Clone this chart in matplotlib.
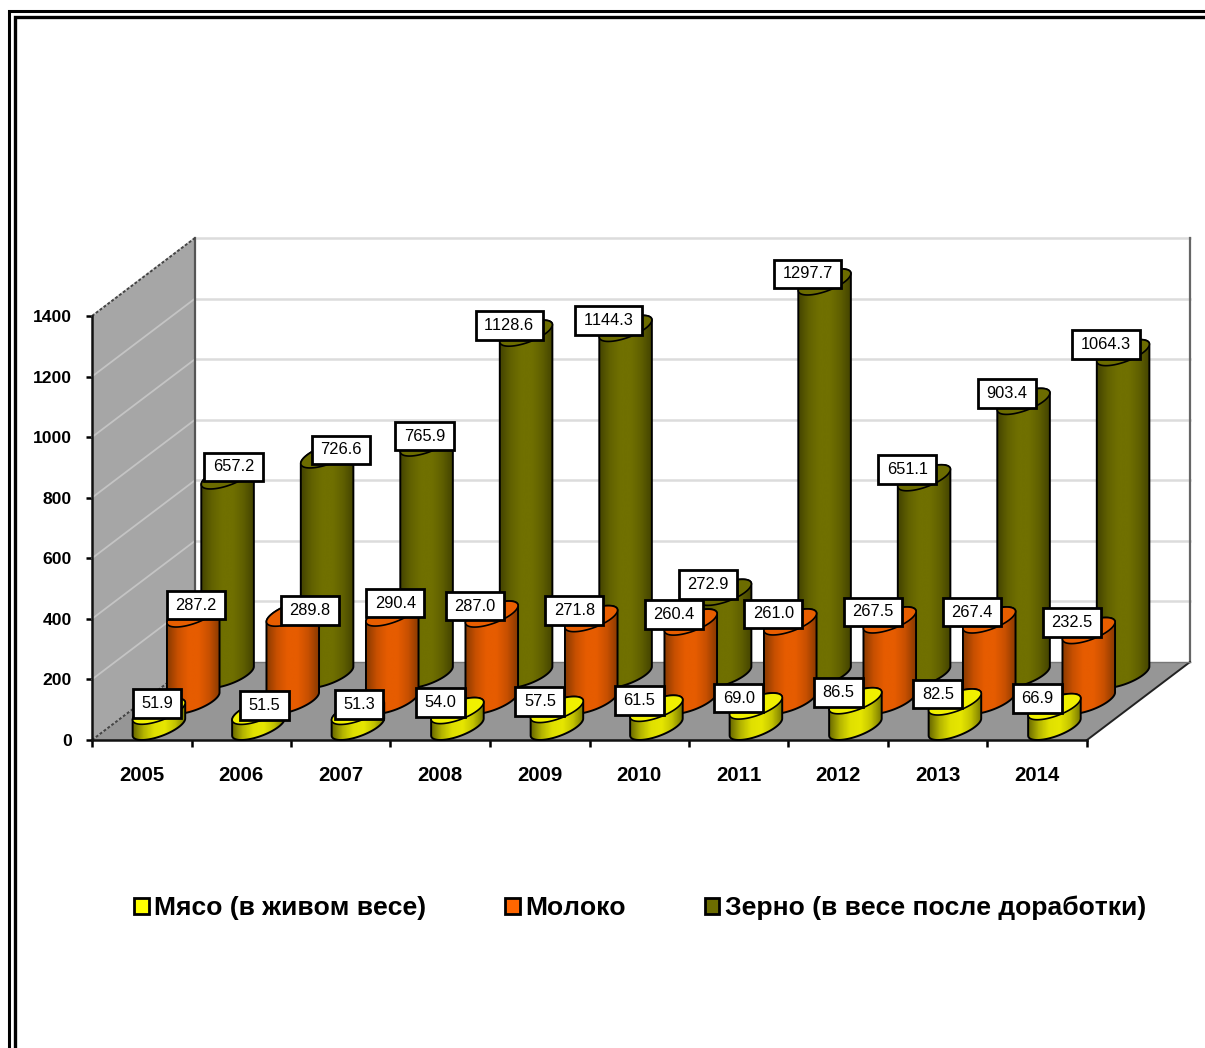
import numpy as np
import matplotlib
matplotlib.use('Agg')
import matplotlib.pyplot as plt
from matplotlib.colors import LinearSegmentedColormap
from matplotlib.lines import Line2D
from matplotlib.patches import Patch, Polygon
from matplotlib.path import Path

plt.rcParams['font.family'] = ['Liberation Sans', 'DejaVu Sans']
plt.rcParams['text.kerning_factor'] = 6

# Data
years = ['2005', '2006', '2007', '2008', '2009', '2010', '2011', '2012', '2013', '2014']
meat = [51.9, 51.5, 51.3, 54.0, 57.5, 61.5, 69.0, 86.5, 82.5, 66.9]
milk = [287.2, 289.8, 290.4, 287.0, 271.8, 260.4, 261.0, 267.5, 267.4, 232.5]
grain = [657.2, 726.6, 765.9, 1128.6, 1144.3, 272.9, 1297.7, 651.1, 903.4, 1064.3]
names = ['Мясо (в живом весе)', 'Молоко', 'Зерно (в весе после доработки)']
y_ticks = [0, 200, 400, 600, 800, 1000, 1200, 1400]

# Label nudges in pixels (right, down), most labels sit at the default spot
default_nudge = (-17, -8)
meat_nudge = {0: (-2, -8), 1: (6, -6), 2: (1, -7)}
milk_nudge = {0: (3, -9), 1: (17, -3), 2: (3, -10)}
grain_nudge = {0: (6, -9), 1: (14, -5), 2: (-2, -7)}

# Figure size and plot placement in pixels
W, H = 1205, 1048
left, right, bottom, top = 92, 1087, 740, 316
depth_px = (103, 78)
n_rows = 3

fig = plt.figure(figsize=(W / 100, H / 100), dpi=100)
ax = fig.add_axes([left / W, 1 - bottom / H, (right - left) / W, (bottom - top) / H])
ax.patch.set_visible(False)
x_max, y_max = len(years), y_ticks[-1]

# One depth unit expressed in data units
depth_x = depth_px[0] / ((right - left) / x_max)
depth_y = depth_px[1] / ((bottom - top) / y_max)


def shape(pts, **kw):
    p = Polygon(pts, closed=True, clip_on=False, **kw)
    ax.add_patch(p)
    return p


# Walls and floor
shape([(0, 0), (0, y_max), (depth_x, y_max + depth_y), (depth_x, depth_y)], fc='#A6A6A6', ec='none', zorder=1)
shape([(depth_x, depth_y), (depth_x, y_max + depth_y), (x_max + depth_x, y_max + depth_y), (x_max + depth_x, depth_y)],
      fc='white', ec='none', zorder=1)
shape([(0, 0), (x_max, 0), (x_max + depth_x, depth_y), (depth_x, depth_y)], fc='#969696', ec='none', zorder=1)

# Grid on the side and the back wall
for v in y_ticks[1:]:
    ax.plot([0, depth_x], [v, v + depth_y], color='#C4C4C4', lw=1.3, zorder=2, clip_on=False)
    ax.plot([depth_x, x_max + depth_x], [v + depth_y, v + depth_y], color='#DCDCDC', lw=1.8, zorder=2, clip_on=False)

# Wall edges
ax.plot([depth_x, depth_x], [depth_y, y_max + depth_y], color='#555555', lw=1.6, zorder=3, clip_on=False)
ax.plot([x_max + depth_x, x_max + depth_x], [depth_y, y_max + depth_y], color='#666666', lw=1.6, zorder=3, clip_on=False)
ax.plot([0, depth_x], [y_max, y_max + depth_y], color='#444444', lw=1.4, ls=(0, (1.5, 1)), zorder=3, clip_on=False)
ax.plot([0, depth_x], [0, depth_y], color='#444444', lw=1.4, ls=(0, (1.5, 1)), zorder=3, clip_on=False)
ax.plot([x_max, x_max + depth_x], [0, depth_y], color='#222222', lw=1.4, zorder=3, clip_on=False)
ax.plot([depth_x, x_max + depth_x], [depth_y, depth_y], color='#777777', lw=1, zorder=3, clip_on=False)

# Cylinder geometry, gap width 150 %
half_w = 1 / 2.5 / 2
half_d = 0.5 * depth_x / n_rows
half_h = 0.5 * depth_y / n_rows
turn = np.arctan2(half_d, half_w)


def ring(cx, cy, t):
    return np.column_stack([cx + half_w * np.cos(t) + half_d * np.sin(t), cy + half_h * np.sin(t)])


def cylinder(cx, base, value, cmap, top_color, z):
    front = np.linspace(turn - np.pi, turn, 60)
    back = np.linspace(turn, turn + np.pi, 60)
    body_pts = np.vstack([ring(cx, base, front), ring(cx, base + value, back)])
    body = shape(body_pts, fc='none', ec='none', zorder=z)
    x0, x1 = body_pts[:, 0].min(), body_pts[:, 0].max()
    im = ax.imshow(np.linspace(0, 1, 64).reshape(1, -1), cmap=cmap, aspect='auto', zorder=z + 0.1,
                   extent=[x0, x1, body_pts[:, 1].min(), body_pts[:, 1].max()], interpolation='bilinear')
    im.set_clip_box(fig.bbox)
    im.set_clip_path(body)
    shape(body_pts, fc='none', ec='black', lw=1.4, zorder=z + 0.2)
    shape(ring(cx, base + value, np.linspace(0, 2 * np.pi, 120)), fc=top_color, ec='black', lw=1.2, zorder=z + 0.3)


def tag_box(x0, y0, width, height, mutation_size):
    # white label box, wider padding at the sides than above and below
    px, py = 0.52 * mutation_size, 0.42 * mutation_size
    x0, x1 = x0 - px, x0 + width + px
    y0, y1 = y0 - py, y0 + height + py
    return Path([(x0, y0), (x1, y0), (x1, y1), (x0, y1), (x0, y0)], closed=True)


series = [
    (meat, meat_nudge, ['#6A6A00', '#B4B400', '#E0E000', '#E6E600', '#C4C400', '#787800'], '#F0F000'),
    (milk, milk_nudge, ['#8A3A00', '#C85000', '#E65C00', '#E65C00', '#C85000', '#8A3A00'], '#E85E00'),
    (grain, grain_nudge, ['#444400', '#626200', '#707000', '#707000', '#606000', '#444400'], '#6C6C00'),
]

# Back row first so the nearer cylinders cover it
for k in reversed(range(n_rows)):
    values, nudges, ramp, top_color = series[k]
    cmap = LinearSegmentedColormap.from_list('side', ramp)
    offset_x = (k + 0.5) * depth_x / n_rows
    offset_y = (k + 0.5) * depth_y / n_rows
    for i, v in enumerate(values):
        cx = i + 0.5 + offset_x
        cylinder(cx, offset_y, v, cmap, top_color, 5.5 - k + i * 0.01)
        nx, ny = nudges.get(i, default_nudge)
        ax.annotate(f'{v:.1f}', xy=(cx, offset_y + v), xytext=(nx * 0.72, -ny * 0.72), textcoords='offset points',
                    ha='center', va='center', fontsize=11.8, color='black', zorder=20 - k, annotation_clip=False,
                    bbox=dict(boxstyle=tag_box, fc='white', ec='black', lw=2))

ax.set_xlim(0, x_max)
ax.set_ylim(0, y_max)

# Axes
for side in ['top', 'right']:
    ax.spines[side].set_visible(False)
for side in ['left', 'bottom']:
    ax.spines[side].set_linewidth(1.8)
    ax.spines[side].set_color('#111111')
    ax.spines[side].set_zorder(4)
ax.set_yticks(y_ticks)
ax.set_yticklabels([str(v) for v in y_ticks], fontsize=12.6, fontweight='bold')
ax.tick_params(axis='y', length=4, width=1.8, pad=10.5)
ax.set_xticks(range(x_max + 1))
ax.set_xticklabels([])
ax.set_xticks(np.arange(x_max) + 0.5, minor=True)
ax.set_xticklabels(years, minor=True, fontsize=14.7, fontweight='bold')
ax.tick_params(axis='x', which='major', length=5, width=1.8)
ax.tick_params(axis='x', which='minor', length=0, pad=18.5)

# Legend
colors = ['#FFFF00', '#FF6600', '#6C6C00']
handles = [Patch(fc=c, ec='black', lw=2, label=n) for c, n in zip(colors, names)]
fig.legend(handles=handles, loc='center left', bbox_to_anchor=(134 / W, 1 - 908 / H), ncol=3, frameon=False,
           prop={'size': 19.05, 'weight': 'bold'}, borderpad=0, borderaxespad=0, handlelength=0.55, handleheight=0.55,
           handletextpad=0.22, columnspacing=2.97, labelspacing=0)

# Double page border, open on the right and at the bottom
for x, y, lw in [(8.5, 11, 2.2), (14.5, 16.5, 2.4)]:
    fig.add_artist(Line2D([x / W, x / W, 1], [0, 1 - y / H, 1 - y / H], color='black', lw=lw,
                          solid_joinstyle='miter'))

fig.savefig('out.png', dpi=100)
